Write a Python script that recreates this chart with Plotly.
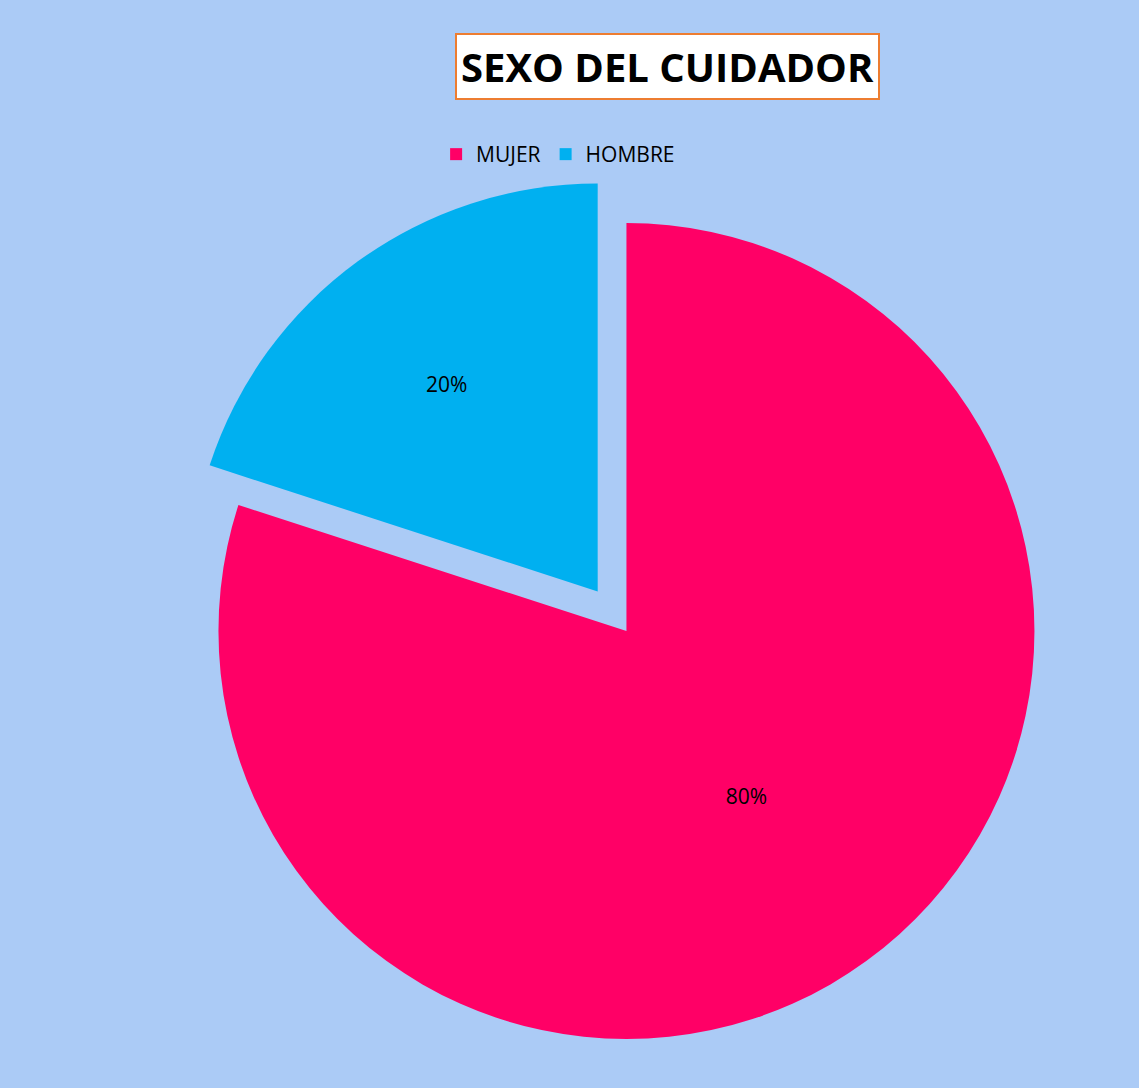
import plotly.graph_objects as go

categories = ["MUJER", "HOMBRE"]
values = [80, 20]
colors = ["#FF0066", "#00B0F0"]

fig = go.Figure(go.Pie(
    labels=categories,
    values=values,
    sort=False,
    direction="clockwise",
    rotation=0,
    pull=[0, 0.12],
    marker=dict(colors=colors, line=dict(width=0)),
    textinfo="percent",
    texttemplate="%{percent:.0%}",
    textposition="inside",
    insidetextorientation="horizontal",
    textfont=dict(family="Open Sans, sans-serif", size=21, color="black"),
    domain=dict(x=[0.1, 1], y=[0, 0.84]),
    hoverinfo="label+percent",
))

fig.update_layout(
    width=1139, height=1088,
    paper_bgcolor="#ABCBF6",
    plot_bgcolor="#ABCBF6",
    margin=dict(l=0, r=0, t=0, b=0),
    showlegend=True,
    legend=dict(orientation="h", x=0.49, xanchor="center", y=0.858, yanchor="middle",
                font=dict(family="Open Sans, sans-serif", size=21, color="black"),
                itemwidth=30,
                bgcolor="rgba(0,0,0,0)"),
    annotations=[dict(
        text="<b>SEXO DEL CUIDADOR</b>", x=0.586, y=0.939, xref="paper", yref="paper",
        xanchor="center", yanchor="middle", showarrow=False,
        font=dict(family="Open Sans, sans-serif", size=40, color="black"),
        bgcolor="white", bordercolor="#ED7D31", borderwidth=2, borderpad=4,
    )],
)

fig.write_html(
    "out.html",
    config={"displayModeBar": False},
    post_script="document.body.style.margin='0';document.body.style.background='#ABCBF6';",
)
